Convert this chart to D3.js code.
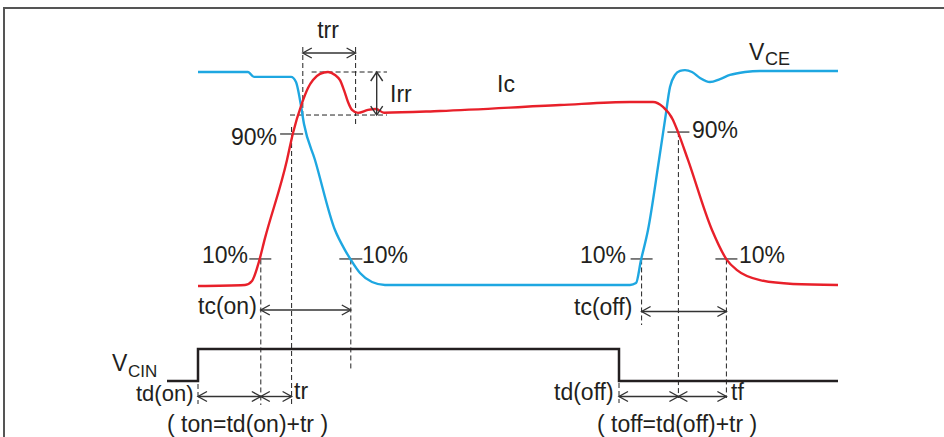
<!DOCTYPE html>
<html><head><meta charset="utf-8">
<script src="https://cdn.jsdelivr.net/npm/d3@7"></script>
<style>
html,body{margin:0;padding:0;background:#fff;}
svg{display:block;}
text{font-family:"Liberation Sans",Arial,Helvetica,sans-serif;fill:#231f20;}
</style></head>
<body><svg id="c" width="944" height="437"></svg>
<script>
// ---- data (time in arbitrary units, level in % of full scale) ----
const vceTime = [0,12.5,14,23.25,24.5,25.5,26.5,29.25,34.25,36.75,38.25,40.5,43.5,46.75,108,109.5,110.75,112.5,115.25,116.75,118,119.25,120.5,121.75,123.5,125.5,128,130.5,133,136.75,140.5,160];
const vceLevel = [100,100,97.7,97.7,95.3,86.9,75.6,58.7,25.8,16.4,11.7,5.6,1.4,0,0,0.9,11.7,25.8,58.7,77.5,93,98.6,100.5,100.9,100,97.2,95.3,96.7,98.6,100,100.5,100.5];
const icTime = [0,11.75,13.5,15,16.75,22.25,23.75,26,27.5,28.75,30.5,32.5,34.25,35.5,36.5,37.5,38.5,40,42.5,44.5,46.5,60.5,90.5,108,113.75,116.25,118.75,120,122.5,128.5,132.25,134.75,140.5,148.75,160];
const icLevel = [-0.5,0,1.9,9.4,22,58.7,71.4,85.4,92.5,96.2,99.1,100,98.6,96.2,91.5,85.9,82.2,80.8,82.2,82.6,80.9,81.7,84.5,85.9,85.9,83.6,77.5,71.8,58.7,25.8,11.7,7,2.3,0.5,0];
const gateTime = [-7.75,0,105.25,160];
const gateLevel = [0,1,0,0];
// timing marks
const tOnStart = 0, tOn10 = 15.7, tOn90 = 23.4, tRrStart = 26.2, tRrEnd = 39.4, tVce10On = 38.2;
const tOffStart = 105.25, tVce10Off = 110.9, tOff90 = 120.1, tOff10 = 132.1;
const irrTop = 100, irrBottom = 79.8;
const level90On = 70.9, level90Off = 71.8, level10 = 12;

const svg = d3.select("#c");
const x = d3.scaleLinear().domain([0,160]).range([198,838]);
const y = d3.scaleLinear().domain([0,100]).range([285,72]);
const yg = d3.scaleLinear().domain([0,1]).range([381,349]);

// frame
svg.append("line").attr("x1",3).attr("x2",944).attr("y1",8).attr("y2",8).attr("stroke","#555").attr("stroke-width",2);
svg.append("line").attr("x1",4).attr("x2",4).attr("y1",7).attr("y2",437).attr("stroke","#555").attr("stroke-width",2);

const dash = (x1,y1,x2,y2)=>svg.append("line").attr("x1",x1).attr("y1",y1).attr("x2",x2).attr("y2",y2)
  .attr("stroke","#222").attr("stroke-width",1).attr("stroke-dasharray","5,3");
const tick = (xc,yc,w)=>svg.append("line").attr("x1",xc-w/2).attr("x2",xc+w/2).attr("y1",yc).attr("y2",yc)
  .attr("stroke","#555").attr("stroke-width",1.5);

// dashed guides
dash(x(tOn10), y(level10), x(tOn10), 405);
dash(x(tOn90), 127, x(tOn90), 405);
dash(x(tRrStart), 47, x(tRrStart), 117);
dash(x(tRrEnd), 47, x(tRrEnd), 127);
dash(x(tVce10On), y(level10), x(tVce10On), 370);
dash(x(tVce10Off), y(level10), x(tVce10Off), 325);
dash(x(tOff90), y(level90Off), x(tOff90), 398);
dash(x(tOff10), y(level10), x(tOff10), 398);
dash(x(tOnStart), 384, x(tOnStart), 404);
dash(x(tOffStart), 383, x(tOffStart), 403);
dash(x(28.4), y(irrTop), 387, y(irrTop));
dash(x(23.0), y(irrBottom), 387, y(irrBottom));

// ticks
tick(x(tOn90), y(level90On), 23);
tick(x(tOn10)-0.5, y(level10)-0.5, 22);
tick(x(tVce10On), y(level10)-0.5, 23);
tick(x(tOff90), y(level90Off), 22);
tick(x(tVce10Off), y(level10)-0.5, 22);
tick(x(tOff10), y(level10)-0.5, 22);

// waveforms
const line = d3.line().x(d=>x(d[0])).y(d=>y(d[1])).curve(d3.curveMonotoneX);
svg.append("path").datum(vceTime.map((t,i)=>[t,vceLevel[i]])).attr("d",line)
  .attr("fill","none").attr("stroke","#1ea7e1").attr("stroke-width",2.4).attr("stroke-linejoin","round");
svg.append("path").datum(icTime.map((t,i)=>[t,icLevel[i]])).attr("d",line)
  .attr("fill","none").attr("stroke","#e8202a").attr("stroke-width",2.4).attr("stroke-linejoin","round");
const gline = d3.line().x(d=>x(d[0])).y(d=>yg(d[1])).curve(d3.curveStepAfter);
svg.append("path").datum(gateTime.map((t,i)=>[t,gateLevel[i]])).attr("d",gline)
  .attr("fill","none").attr("stroke","#231f20").attr("stroke-width",2.5);

// arrows
function harrow(x1,x2,yy){
  const g = svg.append("g").attr("stroke","#333").attr("stroke-width",1.4).attr("fill","none");
  g.append("line").attr("x1",x1).attr("x2",x2).attr("y1",yy).attr("y2",yy);
  g.append("path").attr("d",`M${x1+9},${yy-5}L${x1},${yy}L${x1+9},${yy+5}`);
  g.append("path").attr("d",`M${x2-9},${yy-5}L${x2},${yy}L${x2-9},${yy+5}`);
}
function varrow(xx,y1,y2){
  const g = svg.append("g").attr("stroke","#333").attr("stroke-width",1.4).attr("fill","none");
  g.append("line").attr("x1",xx).attr("x2",xx).attr("y1",y1).attr("y2",y2);
  g.append("path").attr("d",`M${xx-6},${y1+9}L${xx},${y1}L${xx+6},${y1+9}`);
  g.append("path").attr("d",`M${xx-6},${y2-9}L${xx},${y2}L${xx+6},${y2-9}`);
}
harrow(x(tRrStart), x(tRrEnd), 53);
varrow(376.7, y(irrTop), y(irrBottom));
harrow(x(tOn10), x(tVce10On), 310);
harrow(x(tVce10Off), x(tOff10), 311.5);
harrow(x(tOnStart), x(tOn10), 396.5);
harrow(x(tOn10), x(tOn90), 396.5);
harrow(x(tOffStart), x(tOff90), 396.5);
harrow(x(tOff90), x(tOff10), 396.5);

// labels
const txt = (s,xx,yy,size=23,anchor="start")=>svg.append("text").attr("x",xx).attr("y",yy)
  .attr("font-size",size).attr("text-anchor",anchor).text(s);
txt("trr", 328, 38, 23, "middle");
txt("Irr", 390, 102);
txt("Ic", 497, 92);
txt("V", 749, 60); txt("CE", 765, 64.5, 18);
txt("90%", 231, 145);
txt("90%", 692, 138);
txt("10%", 202, 263);
txt("10%", 362, 263);
txt("10%", 580, 263);
txt("10%", 739, 263);
txt("tc(on)", 198, 313.5);
txt("tc(off)", 574, 315);
txt("V", 112, 371); txt("CIN", 128, 377, 17);
txt("td(on)", 136, 401, 22);
txt("tr", 294, 399);
txt("( ton=td(on)+tr )", 167, 432);
txt("td(off)", 554, 400);
txt("tf", 731, 400);
txt("( toff=td(off)+tr )", 597, 432);
</script></body></html>
